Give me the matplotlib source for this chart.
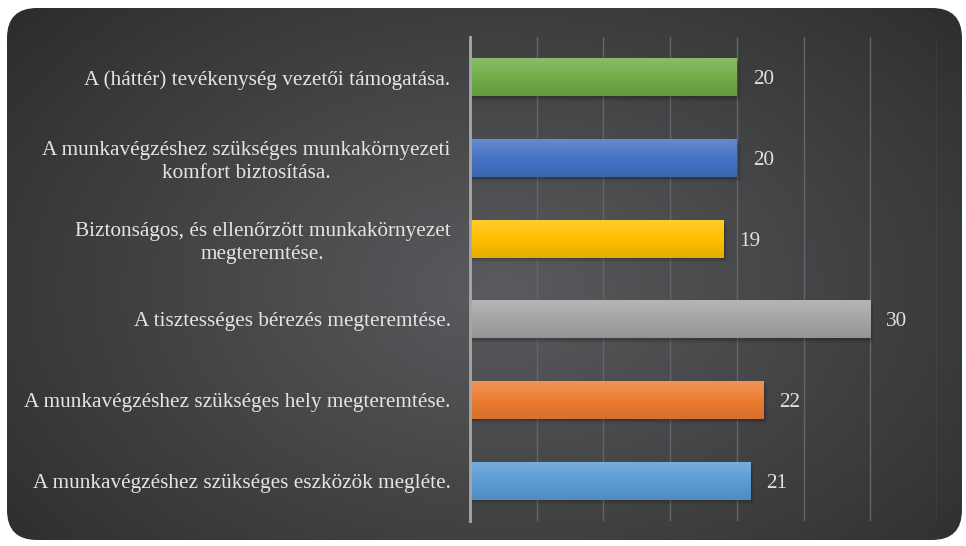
import numpy as np
import matplotlib
matplotlib.use("Agg")
import matplotlib.pyplot as plt
from matplotlib.patches import FancyBboxPatch
from matplotlib.colors import LinearSegmentedColormap, to_rgb

categories = [
    "A (háttér) tevékenység vezetői támogatása.",
    "A munkavégzéshez szükséges munkakörnyezeti\nkomfort biztosítása.",
    "Biztonságos, és ellenőrzött munkakörnyezet\nmegteremtése.",
    "A tisztességes bérezés megteremtése.",
    "A munkavégzéshez szükséges hely megteremtése.",
    "A munkavégzéshez szükséges eszközök megléte.",
]
values = [20, 20, 19, 30, 22, 21]
colors = ["#70ad47", "#4472c4", "#ffc000", "#a5a5a5", "#ed7d31", "#5b9bd5"]
xticks = [0, 5, 10, 15, 20, 25, 30, 35]

plt.rcParams['font.family'] = ['Liberation Serif', 'DejaVu Serif']

W, H = 966, 546
fig = plt.figure(figsize=(W / 100, H / 100), dpi=100)
fig.patch.set_facecolor("white")

# background with rounded corners and radial gradient
bg = fig.add_axes([0, 0, 1, 1])
bg.set_xlim(0, W)
bg.set_ylim(H, 0)
bg.axis("off")
yy, xx = np.mgrid[0:H, 0:W]
cx, cy = 500, 290
r = np.sqrt(((xx - cx) / 640.0) ** 2 + ((yy - cy) / 430.0) ** 2)
r = np.clip(r, 0, 1)
c0 = np.array(to_rgb("#5a5b5e"))
c1 = np.array(to_rgb("#2d2d2d"))
img = c0[None, None, :] * (1 - r[..., None]) + c1[None, None, :] * r[..., None]
box = FancyBboxPatch((7, 8), 955, 532, boxstyle="round,pad=0,rounding_size=30",
                     transform=bg.transData, facecolor="none", edgecolor="none")
bg.add_patch(box)
im = bg.imshow(img, extent=(0, W, H, 0), interpolation="bilinear", zorder=0)
im.set_clip_path(box)

ax = fig.add_axes([470 / W, 1 - 521 / H, (937 - 470) / W, (521 - 37) / H])
ax.patch.set_alpha(0)
ypos = np.arange(len(categories))
bars = ax.barh(ypos, values, height=0.47, color=colors, zorder=3)
ax.set_xlim(0, 35)
ax.set_ylim(len(categories) - 0.5, -0.5)
ax.set_xticks(xticks)
ax.xaxis.grid(True, color="#646568", linewidth=1.0, zorder=0)
ax.tick_params(axis="x", length=0, labelbottom=False)
ax.tick_params(axis="y", length=0, pad=14, labelsize=15.3, labelcolor="#e4e4e4")
ax.set_yticks(ypos)
ax.set_yticklabels(categories)
for t in ax.get_yticklabels():
    t.set_multialignment("center")
    t.set_linespacing(1.25)
for s in ["top", "right", "bottom"]:
    ax.spines[s].set_visible(False)
ax.spines["left"].set_color("#a8a8a8")
ax.spines["left"].set_linewidth(2.0)
ax.spines["left"].set_zorder(5)

# gradient overlays and shadows
for b, c in zip(bars, colors):
    base = np.array(to_rgb(c))
    top = base + (1 - base) * 0.18
    bot = base * 0.9
    cmap = LinearSegmentedColormap.from_list("g", [top, base, bot])
    x0, y0, w, h = b.get_x(), b.get_y(), b.get_width(), b.get_height()
    for k, a in enumerate([0.12, 0.08, 0.05]):
        d = 0.02 * (k + 1)
        ax.add_patch(plt.Rectangle((x0, y0 + d), w + 0.1 * (k + 1), h, color="black",
                                   alpha=a, zorder=2, linewidth=0))
    grad = np.linspace(0, 1, 64).reshape(-1, 1)
    gi = ax.imshow(grad, cmap=cmap, extent=(x0, x0 + w, y0 + h, y0),
                   aspect="auto", zorder=4, interpolation="bilinear")
    gi.set_clip_path(b)
    ax.text(w + 1.2, b.get_y() + h / 2, str(int(w)), va="center_baseline", ha="left",
            fontsize=15.3, color="#e0e0e0", zorder=6)

ax.set_xlim(0, 35)
ax.set_ylim(len(categories) - 0.5, -0.5)
fig.savefig("out.png", dpi=100, facecolor="white")
